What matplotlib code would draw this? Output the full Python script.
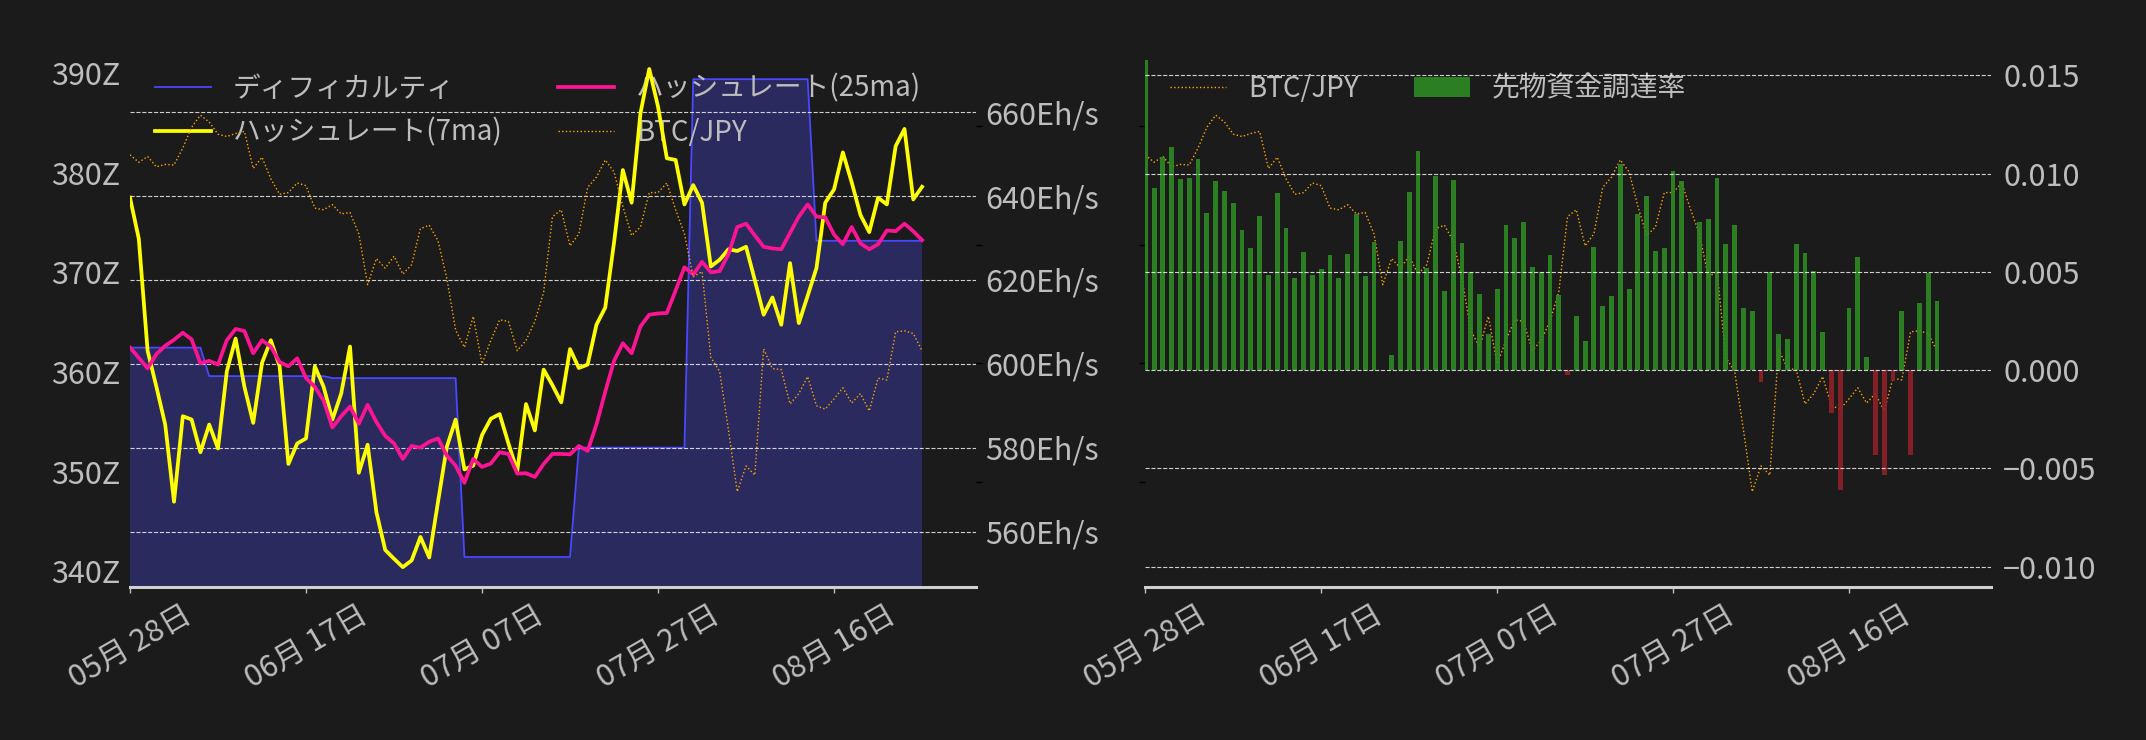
import numpy as np
import pandas as pd
import matplotlib
matplotlib.use("Agg")
import matplotlib.pyplot as plt
import matplotlib.dates as mdates
from matplotlib.ticker import FixedLocator, FuncFormatter

plt.rcParams['font.family'] = ['Noto Sans CJK JP', 'DejaVu Sans']
plt.rcParams['axes.unicode_minus'] = True

# ---------------- data ----------------
start_date = "2024-05-28"
n_days = 91
dates = pd.date_range(start_date, periods=n_days, freq="D")

difficulty_z = [
    362.46, 362.46, 362.46, 362.46, 362.46, 362.46, 362.46, 362.46, 362.46,
    359.6, 359.6, 359.6, 359.6, 359.6, 359.6, 359.6, 359.6, 359.6, 359.6, 359.6, 359.6, 359.6, 359.6,
    359.4, 359.4, 359.4, 359.4, 359.4, 359.4, 359.4, 359.4, 359.4, 359.4, 359.4, 359.4, 359.4, 359.4, 359.4,
    341.45, 341.45, 341.45, 341.45, 341.45, 341.45, 341.45, 341.45, 341.45, 341.45, 341.45, 341.45, 341.45,
    352.42, 352.42, 352.42, 352.42, 352.42, 352.42, 352.42, 352.42, 352.42, 352.42, 352.42, 352.42, 352.42,
    389.4, 389.4, 389.4, 389.4, 389.4, 389.4, 389.4, 389.4, 389.4, 389.4, 389.4, 389.4, 389.4, 389.4,
    373.18, 373.18, 373.18, 373.18, 373.18, 373.18, 373.18, 373.18, 373.18, 373.18, 373.18, 373.18, 373.18,
]

hashrate_7ma = [
    639.6, 629.8, 603.1, 594.5, 585.5, 567.1, 587.5, 586.7, 578.9, 585.5,
    579.8, 598.2, 606.0, 594.5, 585.9, 600.2, 605.6, 599.4, 576.1, 581.0,
    582.2, 599.4, 594.5, 586.7, 592.9, 604.1, 574.0, 580.7, 564.6, 555.6,
    553.5, 551.5, 553.1, 558.7, 553.8, 567.1, 580.2, 586.7, 574.8, 575.7,
    583.0, 586.9, 588.0, 581.0, 574.4, 590.4, 584.1, 598.6, 594.9, 590.8,
    603.5, 599.0, 599.8, 609.3, 613.4, 628.9, 646.2, 638.4, 659.7, 670.3,
    661.3, 649.0, 648.6, 638.0, 642.6, 638.4, 623.2, 624.8, 627.3, 626.9,
    627.9, 619.9, 611.7, 615.8, 609.3, 624.0, 609.7, 616.2, 622.8, 638.4,
    641.6, 650.4, 643.3, 635.5, 631.4, 639.6, 638.0, 651.9, 656.0, 639.2,
    642.2,
]

hashrate_25ma = [
    603.9, 601.4, 598.9, 602.3, 604.3, 605.7, 607.4, 605.8, 600.1, 600.7,
    599.8, 605.6, 608.3, 607.8, 602.5, 605.6, 604.1, 600.4, 599.4, 601.3,
    596.6, 594.5, 591.2, 584.8, 587.5, 589.8, 585.7, 590.2, 586.1, 582.8,
    581.0, 577.3, 580.4, 580.0, 581.4, 582.2, 578.1, 575.7, 571.6, 577.3,
    575.4, 576.2, 578.9, 578.5, 573.8, 573.9, 573.0, 576.1, 578.5, 578.5,
    578.4, 580.4, 579.2, 585.5, 593.3, 600.7, 604.9, 602.5, 608.9, 611.7,
    612.0, 612.1, 617.5, 623.0, 621.3, 624.3, 621.8, 622.1, 626.1, 632.6,
    633.4, 630.6, 627.9, 627.5, 627.3, 631.2, 635.1, 638.0, 635.1, 634.9,
    630.8, 628.5, 632.6, 628.7, 627.3, 628.5, 631.8, 631.6, 633.4, 631.6,
    629.5,
]

btc_jpy = [
    10757000, 10694000, 10743000, 10656000, 10676000, 10671000, 10815000, 10989000, 11091000, 11033000,
    10931000, 10911000, 10937000, 10954000, 10642000, 10737000, 10555000, 10424000, 10439000, 10520000,
    10497000, 10308000, 10294000, 10337000, 10259000, 10271000, 10091000, 9663000, 9883000, 9802000,
    9903000, 9752000, 9831000, 10135000, 10164000, 10033000, 9715000, 9280000, 9135000, 9396000,
    8996000, 9193000, 9367000, 9353000, 9107000, 9193000, 9353000, 9599000, 10236000, 10294000,
    9990000, 10091000, 10482000, 10569000, 10714000, 10613000, 10323000, 10077000, 10149000, 10439000,
    10439000, 10520000, 10294000, 10091000, 9729000, 9773000, 9049000, 8933000, 8440000, 7919000,
    8136000, 8058000, 9121000, 8956000, 8947000, 8658000, 8745000, 8889000, 8643000, 8614000,
    8701000, 8794000, 8666000, 8745000, 8599000, 8875000, 8860000, 9266000, 9274000, 9251000,
    9107000,
]

funding_rate = [
    0.0200, 0.00925, 0.01082, 0.01133, 0.00970, 0.00976, 0.01072, 0.00802, 0.00960, 0.00909,
    0.00848, 0.00712, 0.00621, 0.00783, 0.00483, 0.00899, 0.00722, 0.00467, 0.00600, 0.00483,
    0.00514, 0.00584, 0.00467, 0.00589, 0.00795, 0.00477, 0.00650, 0.0, 0.00077, 0.00656,
    0.00904, 0.01117, 0.00519, 0.00986, 0.00402, 0.00965, 0.00645, 0.00497, 0.00386, 0.00184,
    0.00413, 0.00736, 0.00671, 0.00752, 0.00523, 0.00497, 0.00584, 0.00381, -0.00023, 0.00274,
    0.00149, 0.00624, 0.00325, 0.00376, 0.01047, 0.00413, 0.00792, 0.00888, 0.00605, 0.00621,
    0.01011, 0.00960, 0.00497, 0.00752, 0.00768, 0.00976, 0.00640, 0.00736, 0.00315, 0.00301,
    -0.00061, 0.00497, 0.00184, 0.00157, 0.00640, 0.00594, 0.00504, 0.00194, -0.00219, -0.00608,
    0.00315, 0.00573, 0.00066, -0.00434, -0.00533, -0.00058, 0.00301, -0.00430, 0.00341, 0.00493,
    0.00351,
]

difficulty_ticks = [340, 350, 360, 370, 380, 390]
hashrate_ticks = [560, 580, 600, 620, 640, 660]
btc_ticks = [8e6, 9e6, 10e6, 11e6]
funding_ticks = [-0.010, -0.005, 0.0, 0.005, 0.010, 0.015]

# ---------------- style ----------------
BG = "#1b1b1b"
TXT = "#bdbdbd"
FS = 20        # legend
TFS = 22       # tick labels
BLUE = "#4848ff"
FILL = "#2a2a5e"
YELLOW = "#ffff00"
PINK = "#ff1493"
ORANGE = "#ffa500"
GREEN = "#2f8a24"
RED = "#8e2029"

fig = plt.figure(figsize=(21.46, 7.40), dpi=100, facecolor=BG)

x0 = dates[0]
x1 = dates[0] + pd.Timedelta(days=96.1)
xticks = list(dates[::20])


def style_xaxis(ax):
    ax.set_facecolor(BG)
    for s in ["top", "left", "right"]:
        ax.spines[s].set_visible(False)
    ax.spines["bottom"].set_color("#cfcfcf")
    ax.spines["bottom"].set_linewidth(2.2)
    ax.set_xlim(x0, x1)
    ax.xaxis.set_major_locator(FixedLocator(mdates.date2num(xticks)))
    ax.xaxis.set_major_formatter(mdates.DateFormatter("%m月 %d日"))
    ax.tick_params(axis="x", colors=TXT, labelsize=TFS, length=4, width=1, pad=5)
    for lab in ax.get_xticklabels():
        lab.set_rotation(30)


def hide_spines(ax):
    for s in ax.spines.values():
        s.set_visible(False)


# ---------------- left panel ----------------
axL = fig.add_axes([0.06058, 0.2065, 0.3941, 0.7121])
style_xaxis(axL)
axL.fill_between(dates, difficulty_z, 0, color=FILL, lw=0, zorder=1)
l_diff, = axL.plot(dates, difficulty_z, color=BLUE, lw=1.3, zorder=2, label="ディフィカルティ")
axL.set_ylim(338.42, 391.30)
axL.yaxis.set_major_locator(FixedLocator(difficulty_ticks))
axL.yaxis.set_major_formatter(FuncFormatter(lambda v, p: f"{v:.0f}Z"))
axL.tick_params(axis="y", colors=TXT, labelsize=TFS, length=0, pad=7)

axH = axL.twinx()
hide_spines(axH)
l_h7, = axH.plot(dates, hashrate_7ma, color=YELLOW, lw=2.7, label="ハッシュレート(7ma)")
l_h25, = axH.plot(dates, hashrate_25ma, color=PINK, lw=2.7, label="ハッシュレート(25ma)")
axH.set_ylim(546.72, 672.38)
axH.yaxis.set_major_locator(FixedLocator(hashrate_ticks))
axH.yaxis.set_major_formatter(FuncFormatter(lambda v, p: f"{v:.0f}Eh/s"))
axH.tick_params(axis="y", colors=TXT, labelsize=TFS, length=0, pad=7)
axH.grid(True, axis="y", ls="--", color="white", lw=0.8, alpha=0.8)

axB = axL.twinx()
hide_spines(axB)
l_btc, = axB.plot(dates, btc_jpy, color=ORANGE, lw=1.0, ls=":", label="BTC/JPY")
axB.set_ylim(7.114e6, 11.554e6)
axB.yaxis.set_major_locator(FixedLocator(btc_ticks))
axB.tick_params(axis="y", colors="black", length=4, width=1, labelright=False)

axL.legend(handles=[l_diff, l_h7, l_h25, l_btc], ncol=2, loc="upper left",
           bbox_to_anchor=(0.0, 1.022), frameon=False, fontsize=FS,
           labelcolor=TXT)

# ---------------- right panel ----------------
axR = fig.add_axes([0.53369, 0.2065, 0.3939, 0.7121])
style_xaxis(axR)
r_btc, = axR.plot(dates, btc_jpy, color=ORANGE, lw=1.0, ls=":", label="BTC/JPY")
axR.set_ylim(7.114e6, 11.554e6)
axR.yaxis.set_major_locator(FixedLocator(btc_ticks))
axR.tick_params(axis="y", colors="black", length=4, width=1, labelleft=False)

axF = axR.twinx()
hide_spines(axF)
fr = np.array(funding_rate)
bar_colors = np.where(fr >= 0, GREEN, RED)
bars = axF.bar(dates, fr, width=0.55, color=bar_colors, alpha=0.9, label="先物資金調達率")
axF.set_ylim(-0.01105, 0.01577)
axF.yaxis.set_major_locator(FixedLocator(funding_ticks))
axF.yaxis.set_major_formatter(FuncFormatter(lambda v, p: f"{v:.3f}".replace("-", "\u2212")))
axF.tick_params(axis="y", colors=TXT, labelsize=TFS, length=0, pad=9)
axF.grid(True, axis="y", ls="--", color="white", lw=0.8, alpha=0.8)

axR.legend(handles=[r_btc, bars], ncol=2, loc="upper left",
           bbox_to_anchor=(0.0, 1.022), frameon=False, fontsize=FS,
           labelcolor=TXT)

fig.savefig("out.png", dpi=100, facecolor=BG)
